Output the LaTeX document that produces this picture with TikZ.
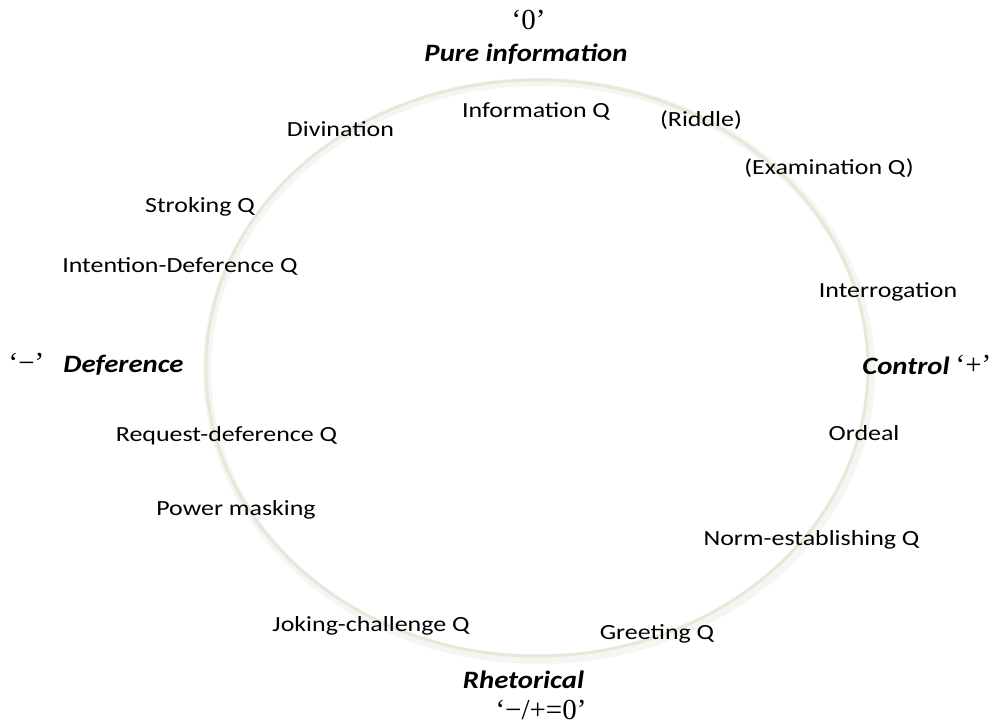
\documentclass[tikz,border=0pt]{standalone}
\usepackage{fontspec}
\newfontfamily\lab{Carlito}[FakeStretch=1.2]
\newfontfamily\labb{Carlito}[FakeStretch=1.15]
\newfontfamily\tms{Liberation Serif}
\definecolor{ringcol}{RGB}{234,231,217}
\definecolor{shadowcol}{RGB}{245,245,243}
\begin{document}
\begin{tikzpicture}[x=1pt,y=-1pt,
  item/.style={anchor=base,inner sep=0pt,font=\lab\fontsize{21.6}{24}\selectfont,text=black},
  pole/.style={anchor=base,inner sep=0pt,font=\labb\fontsize{25}{28}\selectfont\bfseries\itshape},
  sign/.style={anchor=base,inner sep=0pt,font=\tms\fontsize{29}{32}\selectfont},
  ring/.style={draw=ringcol,line width=3pt},
  ringshadow/.style={draw=shadowcol,line width=8pt}]
\useasboundingbox (0,0) rectangle (994,727);
\draw[ringshadow] (539,371) ellipse [x radius=332pt, y radius=289pt];
\draw[ring] (537,368) ellipse [x radius=331pt, y radius=288pt];
% poles
\node[sign] (s0) at (528.5,30) {‘0’};
\node[pole] (pinfo) at (526,62) {Pure information};
\node[sign] (sminus) at (26.5,373) {‘−’};
\node[pole] (pdef) at (123.5,373) {Deference};
\node[pole] (pcon) at (906,375) {Control};
\node[sign] (splus) at (973.5,375) {‘+’};
\node[pole] (prhet) at (523.5,688) {Rhetorical};
\node[sign] (szero) at (541,719) {‘−/+=0’};
% items
\node[item] (infoq) at (536,118) {Information Q};
\node[item] (riddle) at (701,127) {(Riddle)};
\node[item] (div) at (340.5,137) {Divination};
\node[item] (exam) at (829,175) {(Examination Q)};
\node[item] (strok) at (200,213) {Stroking Q};
\node[item] (intdef) at (180,273) {Intention-Deference Q};
\node[item] (interr) at (888,298) {Interrogation};
\node[item] (reqdef) at (226.5,442) {Request-deference Q};
\node[item] (ordeal) at (864,440) {Ordeal};
\node[item] (power) at (236,515) {Power masking};
\node[item] (norm) at (811.5,545) {Norm-establishing Q};
\node[item] (joke) at (371,631) {Joking-challenge Q};
\node[item] (greet) at (657,639) {Greeting Q};
\end{tikzpicture}
\end{document}
